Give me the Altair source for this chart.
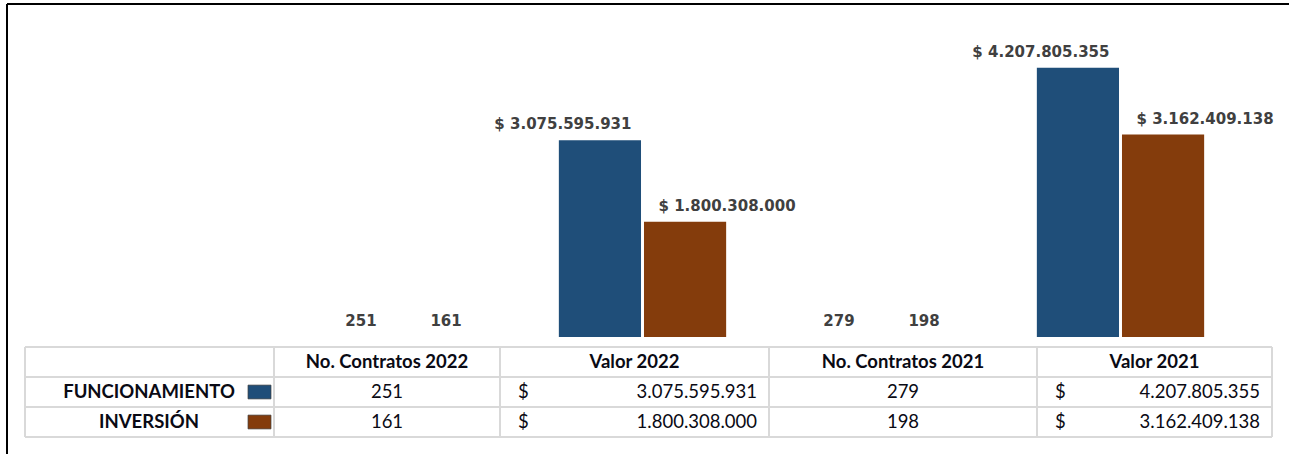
import altair as alt
import pandas as pd

# ---------------- data ----------------
categories = ["No. Contratos 2022", "Valor 2022", "No. Contratos 2021", "Valor 2021"]
series = ["FUNCIONAMIENTO", "INVERSIÓN"]
funcionamiento = [251, 3075595931, 279, 4207805355]
inversion = [161, 1800308000, 198, 3162409138]
is_money = [False, True, False, True]

# ---------------- styles / layout ----------------
colors = ["#1F4E79", "#843C0C"]
CW = 1283          # width of each panel (frame to right edge)
OFF = 19           # table left edge offset from frame
TW = 1247          # table width
col_edges = [0, 249, 475, 744, 1012, 1247]
grid_color = "#d9d9d9"
table_font = "Lato"
label_font = "DejaVu Sans"
money_label_dx = {"FUNCIONAMIENTO": -37, "INVERSIÓN": 42}


def fmt(v):
    return f"{v:,}".replace(",", ".")


rows = []
for s, vals in zip(series, [funcionamiento, inversion]):
    for c, v, m in zip(categories, vals, is_money):
        rows.append(dict(cat=c, serie=s, value=v, money=m,
                         label=("$ " + fmt(v)) if m else fmt(v)))
bars_df = pd.DataFrame(rows)

TOP_H = 334
base = alt.Chart(bars_df).encode(
    x=alt.X("cat:N", sort=categories, axis=None,
            scale=alt.Scale(range=[278, 1234], paddingInner=0.3, paddingOuter=0.15)),
    xOffset=alt.XOffset("serie:N", sort=series, scale=alt.Scale(paddingInner=0.035)),
    y=alt.Y("value:Q", axis=None,
            scale=alt.Scale(domain=[0, 5e9 * TOP_H / 320], nice=False)),
)

bars = base.mark_bar().encode(
    color=alt.Color("serie:N", scale=alt.Scale(domain=series, range=colors), legend=None)
)


def label_layer(filt, dx):
    return base.transform_filter(filt).mark_text(
        dy=-8, dx=dx, baseline="bottom", font=label_font, fontWeight="bold",
        fontSize=15, color="#404040").encode(text="label:N")


count_labels = label_layer("!datum.money", 0)
money_labels = [
    label_layer(f"datum.money && datum.serie == '{s}'", money_label_dx[s]) for s in series
]

one = pd.DataFrame({"k": [0]})
frame_top = alt.Chart(one).mark_rule(color="black", strokeWidth=2).encode(
    x=alt.value(1), x2=alt.value(CW), y=alt.value(1))
frame_left = alt.Chart(one).mark_rule(color="black", strokeWidth=2).encode(
    x=alt.value(1), y=alt.value(1), y2=alt.value(TOP_H))

top = alt.layer(frame_top, frame_left, bars, count_labels, *money_labels).properties(
    width=CW, height=TOP_H)

# ---------------- table ----------------
TAB_H = 117
xs = alt.Scale(domain=[-OFF, CW - OFF], nice=False, zero=False)
ys = alt.Scale(domain=[-10 / 30, (TAB_H - 10) / 30], reverse=True, nice=False, zero=False)

hlines = pd.DataFrame({"x": [0] * 4, "x2": [TW] * 4, "y": [0, 1, 2, 3], "y2": [0, 1, 2, 3]})
vlines = pd.DataFrame({"x": col_edges, "x2": col_edges, "y": [0] * 6, "y2": [3] * 6})
grid_df = pd.concat([hlines, vlines])
grid = alt.Chart(grid_df).mark_rule(color=grid_color, strokeWidth=2).encode(
    x=alt.X("x:Q", scale=xs, axis=None), x2="x2:Q",
    y=alt.Y("y:Q", scale=ys, axis=None), y2="y2:Q")

centers = [(col_edges[i] + col_edges[i + 1]) / 2 for i in range(len(col_edges) - 1)]

head_df = pd.DataFrame({"x": centers[1:], "y": [0.5] * 4, "t": categories})
rowlab_df = pd.DataFrame({"x": [124, 124], "y": [1.5, 2.5], "t": series})

center_cells, left_cells, right_cells = [], [], []
for r, vals in enumerate([funcionamiento, inversion]):
    for i, (v, m) in enumerate(zip(vals, is_money)):
        if m:
            left_cells.append(dict(x=col_edges[i + 1] + 18, y=r + 1.5, t="$"))
            right_cells.append(dict(x=col_edges[i + 2] - 12, y=r + 1.5, t=fmt(v)))
        else:
            center_cells.append(dict(x=centers[i + 1], y=r + 1.5, t=fmt(v)))


def text_layer(df, align, bold):
    return alt.Chart(pd.DataFrame(df)).mark_text(
        align=align, baseline="middle", font=table_font, fontSize=18.5,
        fontWeight="bold" if bold else "normal", color="#0a0a14"
    ).encode(x=alt.X("x:Q", scale=xs, axis=None),
             y=alt.Y("y:Q", scale=ys, axis=None), text="t:N")


sw_df = pd.DataFrame({"x": [223, 223], "x2": [246, 246], "y": [1.27, 2.27],
                      "y2": [1.73, 2.73], "serie": series})
swatches = alt.Chart(sw_df).mark_rect(stroke="#404040", strokeWidth=0.7).encode(
    x=alt.X("x:Q", scale=xs, axis=None), x2="x2:Q",
    y=alt.Y("y:Q", scale=ys, axis=None), y2="y2:Q",
    color=alt.Color("serie:N", scale=alt.Scale(domain=series, range=colors), legend=None))

table_left = alt.Chart(one).mark_rule(color="black", strokeWidth=2).encode(
    x=alt.value(1), y=alt.value(0), y2=alt.value(TAB_H))

table = alt.layer(
    table_left,
    grid,
    text_layer(head_df, "center", True),
    text_layer(rowlab_df, "center", True),
    text_layer(center_cells, "center", False),
    text_layer(left_cells, "left", False),
    text_layer(right_cells, "right", False),
    swatches,
).properties(width=CW, height=TAB_H)

chart = alt.vconcat(top, table, spacing=0, bounds="flush").properties(
    padding={"left": 6, "top": 3, "right": 0, "bottom": 0},
    background="white",
).configure_view(stroke=None)

chart.save("out.html", embed_options={"renderer": "svg", "actions": False})
